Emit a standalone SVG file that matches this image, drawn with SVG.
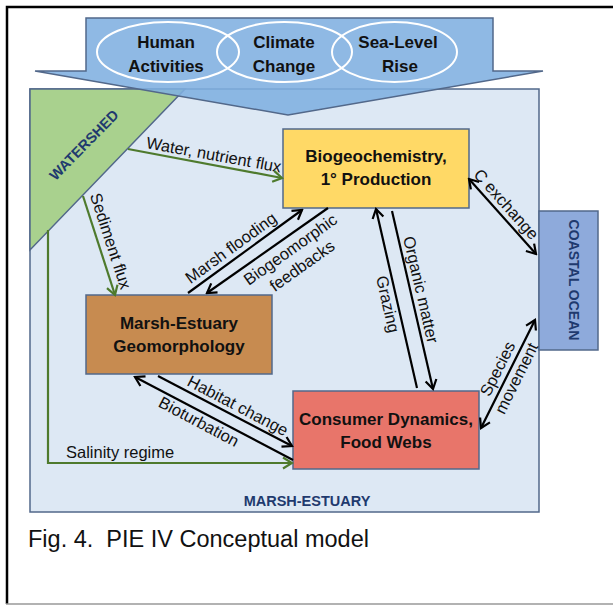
<svg xmlns="http://www.w3.org/2000/svg" width="613" height="605" viewBox="0 0 613 605">
<defs>
<style>
text{font-family:"Liberation Sans",Arial,sans-serif;}
.lbl{font-size:16.5px;fill:#111;}
.bx{font-size:17px;font-weight:bold;fill:#111;text-anchor:middle;}
.rg{font-size:14.5px;font-weight:bold;fill:#1F3A6E;text-anchor:middle;}
.edge{fill:none;stroke-width:2.2;}
.blk{stroke:#000;}
.grn{stroke:#4E7A2D;}
.node{stroke:#52688A;stroke-width:1.5;}
.ell{fill:none;stroke:#fff;stroke-width:2;}
</style>
<marker id="ak" viewBox="-11 -7 13 14" refX="0" refY="0" markerWidth="13" markerHeight="14" markerUnits="userSpaceOnUse" orient="auto-start-reverse">
<path d="M-9,-5.5 L0,0 L-9,5.5" fill="none" stroke="#000" stroke-width="2.2"/>
</marker>
<marker id="ag" viewBox="-11 -7 13 14" refX="0" refY="0" markerWidth="13" markerHeight="14" markerUnits="userSpaceOnUse" orient="auto">
<path d="M-9,-5.5 L0,0 L-9,5.5" fill="none" stroke="#4E7A2D" stroke-width="2.2"/>
</marker>
</defs>
<rect x="0" y="0" width="613" height="605" fill="#fff"/>
<path d="M7,604 V7 H613" fill="none" stroke="#000" stroke-width="2.5"/>
<path d="M6,604 H613" fill="none" stroke="#999" stroke-width="1.5"/>

<g id="marsh-estuary">
<rect class="node" x="30" y="89" width="509" height="423" fill="#DDE8F4"/>
<text class="rg" x="307" y="506">MARSH-ESTUARY</text>
</g>

<g id="watershed">
<polygon class="node" points="30,89 185,89 30,250" fill="#A9D18E"/>
<text class="rg" transform="translate(84,145) rotate(-45.5)" x="0" y="5">WATERSHED</text>
</g>

<g id="drivers">
<polygon class="node" points="86,18 493,18 493,71 543,71 288,115 35,71 86,71" fill="#7FAFE0" fill-opacity="0.88"/>
<g id="human-activities">
<ellipse class="ell" cx="168" cy="52" rx="71" ry="30"/>
<text class="bx" x="166" y="48">Human</text>
<text class="bx" x="166" y="72">Activities</text>
</g>
<g id="climate-change">
<ellipse class="ell" cx="284.5" cy="52" rx="67.5" ry="30"/>
<text class="bx" x="284" y="48">Climate</text>
<text class="bx" x="284" y="72">Change</text>
</g>
<g id="sea-level-rise">
<ellipse class="ell" cx="394.5" cy="52" rx="62.5" ry="30"/>
<text class="bx" x="398" y="48">Sea-Level</text>
<text class="bx" x="400" y="72">Rise</text>
</g>
</g>

<g id="coastal-ocean">
<rect class="node" x="539" y="211" width="59" height="139" fill="#8EAADB"/>
<text class="rg" transform="translate(569,280) rotate(90)" x="0" y="0" style="font-size:14px">COASTAL OCEAN</text>
</g>

<g id="biogeochemistry">
<rect class="node" x="283" y="129" width="186" height="79" fill="#FFD966"/>
<text class="bx" x="376" y="162">Biogeochemistry,</text>
<text class="bx" x="376" y="185">1° Production</text>
</g>

<g id="geomorphology">
<rect class="node" x="86" y="295" width="186" height="79" fill="#C78B50"/>
<text class="bx" x="179" y="329">Marsh-Estuary</text>
<text class="bx" x="179" y="352">Geomorphology</text>
</g>

<g id="consumers">
<rect class="node" x="293" y="391" width="186" height="78" fill="#E8756A"/>
<text class="bx" x="386" y="425">Consumer Dynamics,</text>
<text class="bx" x="386" y="448">Food Webs</text>
</g>

<g id="connectors">
<path class="edge grn" d="M128,149 L282,178" marker-end="url(#ag)"/>
<path class="edge grn" d="M83,196 L115,295" marker-end="url(#ag)"/>
<path class="edge grn" d="M48,230 V463 H292" marker-end="url(#ag)"/>
<path class="edge blk" d="M188,293 L302,210" marker-end="url(#ak)"/>
<path class="edge blk" d="M328,208 L207,293" marker-end="url(#ak)"/>
<path class="edge blk" d="M417,388 L376,209" marker-end="url(#ak)"/>
<path class="edge blk" d="M392,211 L433,389" marker-end="url(#ak)"/>
<path class="edge blk" d="M469,179 L536,254" marker-start="url(#ak)" marker-end="url(#ak)"/>
<path class="edge blk" d="M535,320 L481,428" marker-start="url(#ak)" marker-end="url(#ak)"/>
<path class="edge blk" d="M158,376 L292,446" marker-end="url(#ak)"/>
<path class="edge blk" d="M293,460 L135,377" marker-end="url(#ak)"/>

<text class="lbl" text-anchor="middle" transform="translate(205,164) rotate(10.3)" x="7" y="-5">Water, nutrient flux</text>
<text class="lbl" text-anchor="middle" transform="translate(99,246) rotate(71.9)" x="-1" y="-7">Sediment flux</text>
<text class="lbl" x="66" y="458">Salinity regime</text>
<text class="lbl" text-anchor="middle" transform="translate(245.5,251) rotate(-36.1)" x="-10" y="-5.5">Marsh flooding</text>
<text class="lbl" text-anchor="middle" transform="translate(267.5,250) rotate(-35.4)" x="19" y="18.5">Biogeomorphic</text>
<text class="lbl" text-anchor="middle" transform="translate(267.5,250) rotate(-35.4)" x="19" y="38.5">feedbacks</text>
<text class="lbl" text-anchor="middle" transform="translate(398,302) rotate(77.2)" x="0" y="16">Grazing</text>
<text class="lbl" text-anchor="middle" transform="translate(410.5,292) rotate(77)" x="0" y="-5">Organic matter</text>
<text class="lbl" text-anchor="middle" transform="translate(502,208) rotate(48.2)" x="0" y="0">C exchange</text>
<text class="lbl" text-anchor="middle" transform="translate(508,374) rotate(-63.4)" x="0" y="-6">Species</text>
<text class="lbl" text-anchor="middle" transform="translate(508,374) rotate(-63.4)" x="0" y="15">movement</text>
<text class="lbl" text-anchor="middle" transform="translate(225,411) rotate(27.6)" x="9" y="-5">Habitat change</text>
<text class="lbl" text-anchor="middle" transform="translate(214,418) rotate(28)" x="-11.6" y="16">Bioturbation</text>
</g>

<text x="28" y="547" style="font-size:23.5px;fill:#111;white-space:pre">Fig. 4.  PIE IV Conceptual model</text>
</svg>
